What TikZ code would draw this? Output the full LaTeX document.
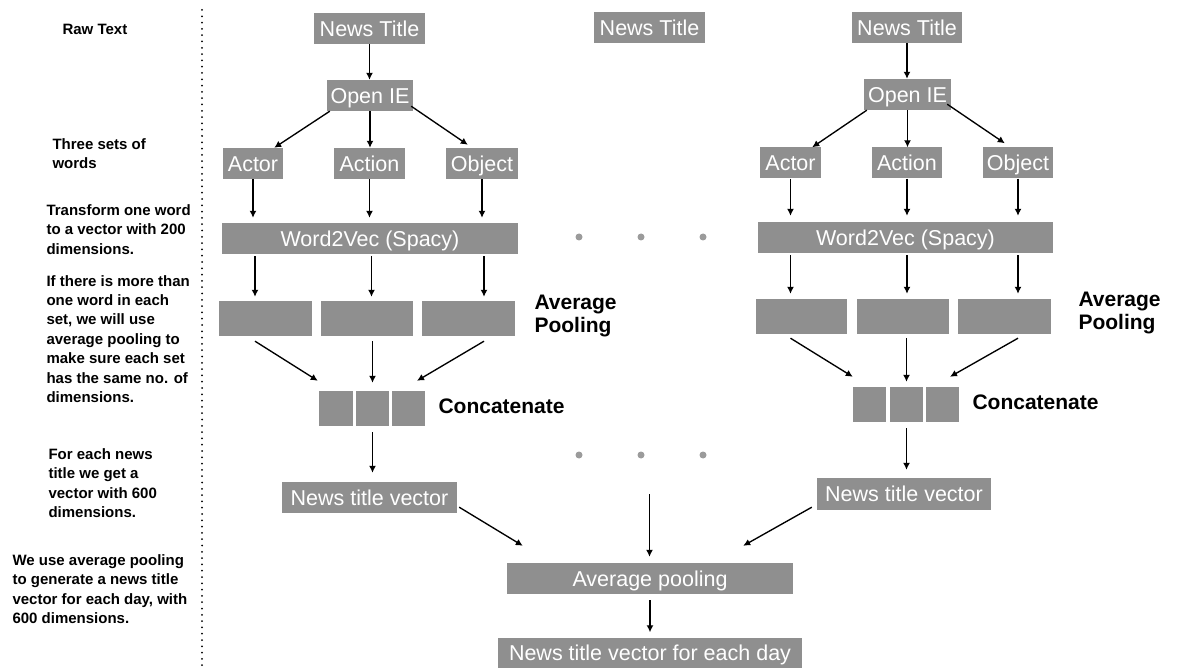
\documentclass[tikz,border=0pt]{standalone}
\usepackage{fontspec}
\setmainfont{Liberation Sans}
\usetikzlibrary{arrows.meta,calc}
\definecolor{boxgray}{RGB}{143,143,143}
\definecolor{dotgray}{RGB}{155,155,155}
\begin{document}
\begin{tikzpicture}[x=1pt,y=-1pt,
  box/.style={fill=boxgray,text=white,inner sep=0pt,minimum height=31pt,
    text height=15.4pt,text depth=0pt,font=\fontsize{21.5}{25}\selectfont},
  blank/.style={fill=boxgray,inner sep=0pt,minimum height=35pt},
  note/.style={anchor=west,align=left,font=\fontsize{15}{19.4}\selectfont\bfseries},
  tag/.style={anchor=west,align=left,font=\fontsize{21}{23}\selectfont\bfseries},
  arr/.style={-{Latex[length=7pt,width=7pt]},line width=1.35pt},
  ellip/.style={circle,fill=dotgray,inner sep=0pt,minimum size=7pt}]

\useasboundingbox (0,0) rectangle (1186,668);

% separator between the notes and the pipeline
\draw[line width=2pt,dash pattern=on 0pt off 6.3pt,line cap=round] (202,10) -- (202,666);

% ---- notes column ----
\node[note] (raw) at (59,29) {Raw Text};
\node[note] (sets) at (49,153.5) {Three sets of\\words};
\node[note] (w2vnote) at (43,229.5) {Transform one word\\to a vector with 200\\dimensions.};
\node[note] (poolnote) at (43,339) {If there is more than\\one word in each\\set, we will use\\average pooling to\\make sure each set\\has the same no. of\\dimensions.};
\node[note] (vecnote) at (45,483) {For each news\\title we get a\\vector with 600\\dimensions.};
\node[note] (daynote) at (9,589) {We use average pooling\\to generate a news title\\vector for each day, with\\600 dimensions.};

% ---- first news title ----
\node[box,minimum width=111pt] (nt1) at (369.5,28.5) {News Title};
\node[box,minimum width=86pt] (oie1) at (370,95.5) {Open IE};
\node[box,minimum width=60pt] (actor1) at (253,163.5) {Actor};
\node[box,minimum width=71pt] (action1) at (369.5,163.5) {Action};
\node[box,minimum width=72pt] (object1) at (482,163.5) {Object};
\node[box,minimum width=296pt] (w2v1) at (370,238.5) {Word2Vec (Spacy)};
\node[blank,minimum width=93pt] (pool1a) at (265.5,318.5) {};
\node[blank,minimum width=92pt] (pool1b) at (367,318.5) {};
\node[blank,minimum width=93pt] (pool1c) at (468.5,318.5) {};
\node[blank,minimum width=34pt] (c1a) at (336,408.5) {};
\node[blank,minimum width=33pt] (c1b) at (372.5,408.5) {};
\node[blank,minimum width=33pt] (c1c) at (408.5,408.5) {};
\node[box,minimum width=175pt] (ntv1) at (369.5,497.5) {News title vector};
\node[tag] (avgtag1) at (531,316.5) {Average\\Pooling};
\node[tag] (cattag1) at (435,406) {Concatenate};

\draw[arr] (nt1.south) -- (nt1.south |- oie1.north);
\draw[arr] ($(oie1.south west)+(3,0)$) -- ($(actor1.north east)+(-9,0)$);
\draw[arr] (oie1.south) -- (oie1.south |- action1.north);
\draw[arr] ($(oie1.south east)+(-2,-5)$) -- ($(object1.north west)+(22,-3)$);
\foreach \s in {actor1,action1,object1}{
  \draw[arr,shorten >=5pt] (\s.south) -- (\s.south |- w2v1.north);
  \draw[arr,shorten <=2pt,shorten >=4pt] ($(\s.south |- w2v1.south)+(2,0)$) -- ($(\s.south |- pool1a.north)+(2,0)$);
}
\draw[arr] ($(actor1.south |- pool1a.south)+(2,5)$) -- ($(c1a.north west)+(-1,-10)$);
\draw[arr] ($(c1b.south |- pool1b.south)+(0,5)$) -- ($(c1b.north)+(0,-8)$);
\draw[arr] ($(object1.south |- pool1c.south)+(2,5)$) -- ($(c1c.north)+(8.5,-10)$);
\draw[arr,shorten <=6pt,shorten >=9pt] (c1b.south) -- (c1b.south |- ntv1.north);

% ---- middle news title ----
\node[box,minimum width=111pt] (nt2) at (649.5,27.5) {News Title};
\foreach \x in {579,641,703}{
  \node[ellip] (dotA\x) at (\x,237) {};
  \node[ellip] (dotB\x) at (\x,455) {};
}

% ---- last news title ----
\node[box,minimum width=110pt] (nt3) at (907,27.5) {News Title};
\node[box,minimum width=87pt] (oie2) at (907.5,94.5) {Open IE};
\node[box,minimum width=61pt] (actor2) at (790.5,163) {Actor};
\node[box,minimum width=70pt] (action2) at (907,163) {Action};
\node[box,minimum width=70pt] (object2) at (1018,163) {Object};
\node[box,minimum width=295pt] (w2v2) at (905.5,237.5) {Word2Vec (Spacy)};
\node[blank,minimum width=91pt] (pool2a) at (801.5,316.5) {};
\node[blank,minimum width=92pt] (pool2b) at (903,316.5) {};
\node[blank,minimum width=93pt] (pool2c) at (1004.5,316.5) {};
\node[blank,minimum width=33pt] (c2a) at (869.5,404.5) {};
\node[blank,minimum width=33pt] (c2b) at (906.5,404.5) {};
\node[blank,minimum width=33pt] (c2c) at (942.5,404.5) {};
\node[box,minimum width=174pt,minimum height=32pt] (ntv2) at (904,494) {News title vector};
\node[tag] (avgtag2) at (1075,313) {Average\\Pooling};
\node[tag] (cattag2) at (969,402) {Concatenate};

\draw[arr] (nt3.south) -- (nt3.south |- oie2.north);
\draw[arr] ($(oie2.south west)+(3,0)$) -- ($(actor2.north east)+(-9,0)$);
\draw[arr] (oie2.south) -- (oie2.south |- action2.north);
\draw[arr] ($(oie2.south east)+(-4,-6)$) -- ($(object2.north west)+(22,-4)$);
\foreach \s in {actor2,action2,object2}{
  \draw[arr,shorten >=6pt] (\s.south) -- (\s.south |- w2v2.north);
  \draw[arr,shorten <=2pt,shorten >=5pt] (\s.south |- w2v2.south) -- (\s.south |- pool2a.north);
}
\draw[arr] ($(actor2.south |- pool2a.south)+(0,4)$) -- ($(c2a.north west)+(0,-10)$);
\draw[arr] ($(c2b.south |- pool2b.south)+(0,4)$) -- ($(c2b.north)+(0,-5)$);
\draw[arr] ($(object2.south |- pool2c.south)+(0,4)$) -- ($(c2c.north)+(7.5,-10)$);
\draw[arr,shorten <=6pt,shorten >=8pt] (c2b.south) -- (c2b.south |- ntv2.north);

% ---- daily pooling ----
\node[box,minimum width=286pt] (avg) at (650,578.5) {Average pooling};
\node[box,minimum width=304pt] (final) at (650,653) {News title vector for each day};
\coordinate (more) at (649.5,494);

\draw[arr] ($(ntv1.south east)+(2,-6)$) -- ($(avg.north west)+(16,-17)$);
\draw[arr,shorten >=6pt] (more) -- (more |- avg.north);
\draw[arr] ($(ntv2.south west)+(-5,-3)$) -- ($(avg.north east)+(-50,-17)$);
\draw[arr,shorten <=6pt,shorten >=5pt] (avg.south) -- (avg.south |- final.north);
\end{tikzpicture}
\end{document}
